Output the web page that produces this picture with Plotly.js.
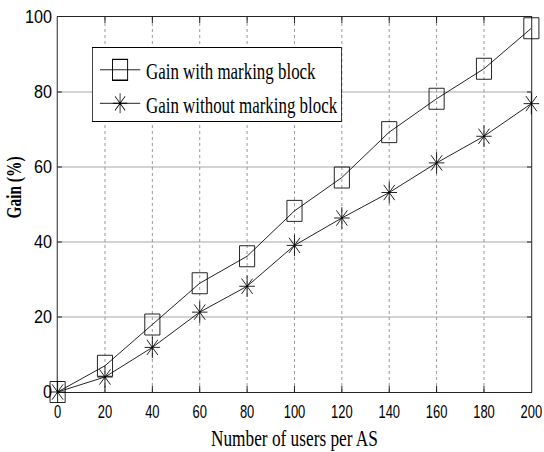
<!DOCTYPE html>
<html>
<head>
<meta charset="utf-8">
<script src="https://cdn.plot.ly/plotly-3.0.1.min.js"></script>
<style>
html, body { margin: 0; padding: 0; overflow: hidden; background: #fff; width: 544px; height: 452px; }
#plot { width: 756px; height: 452px; transform: scaleX(0.72); transform-origin: 0 0; }
</style>
</head>
<body>
<div id="plot"></div>
<script>
// Data
var usersPerAS = [0, 20, 40, 60, 80, 100, 120, 140, 160, 180, 200];
var gainWithMarking = [0, 7, 18, 29, 36.2, 48.3, 57.2, 69.3, 78.2, 86.2, 97];
var gainWithoutMarking = [0, 4, 11.9, 21.3, 28.2, 39.1, 46.4, 53.2, 61.1, 68.2, 76.9];
var seriesNames = ['Gain with marking block', 'Gain without marking block'];
var xTicks = [0, 20, 40, 60, 80, 100, 120, 140, 160, 180, 200];
var yTicks = [0, 20, 40, 60, 80, 100];

var S = 0.72; // horizontal squash of the reference

var tickFont = {family: 'Liberation Sans, Arial, sans-serif', size: 18, color: '#000'};
var serif = 'Liberation Serif, Times New Roman, serif';

var traces = [
  {x: usersPerAS, y: gainWithMarking, name: seriesNames[0], type: 'scatter', mode: 'lines+markers', cliponaxis: false,
   line: {color: '#000', width: 1}, marker: {symbol: 'square-open', size: 21, color: '#000', line: {color: '#000', width: 1}}},
  {x: usersPerAS, y: gainWithoutMarking, name: seriesNames[1], type: 'scatter', mode: 'lines+markers', cliponaxis: false,
   line: {color: '#000', width: 1}, marker: {symbol: 'asterisk-open', size: 18, color: '#000', line: {color: '#000', width: 1}}}
];

var layout = {
  width: 756, height: 452,
  margin: {l: 80, r: 18, t: 17, b: 60, pad: 0},
  paper_bgcolor: '#fff', plot_bgcolor: '#fff',
  showlegend: true,
  legend: {x: 0.0726, y: 0.92, xanchor: 'left', yanchor: 'top', bgcolor: '#fff', bordercolor: '#000', borderwidth: 1,
    font: {family: serif, size: 23.5, color: '#000'}, itemwidth: 64},
  xaxis: {range: [0, 200], tickvals: xTicks, ticktext: xTicks.map(String),
    showline: true, linecolor: '#000', linewidth: 1, mirror: 'ticks',
    ticks: 'inside', ticklen: 6, tickcolor: '#000', tickwidth: 1,
    showgrid: true, gridcolor: '#888', griddash: 'dot', gridwidth: 1,
    zeroline: false, tickfont: tickFont, automargin: false, ticklabelstandoff: 3,
    title: {text: 'Number of users per AS', font: {family: serif, size: 24, color: '#000'}, standoff: 8}},
  yaxis: {range: [0, 100], tickvals: yTicks, ticktext: yTicks.map(String),
    showline: true, linecolor: '#000', linewidth: 1, mirror: 'ticks',
    ticks: 'inside', ticklen: 6, tickcolor: '#000', tickwidth: 1,
    showgrid: true, gridcolor: '#999', gridwidth: 1,
    zeroline: false, tickfont: tickFont, automargin: false, ticklabelstandoff: 3,
    title: {text: 'Gain (%)', font: {family: serif, size: 21, color: '#000', weight: 'bold'}}}
};

var gd = document.getElementById('plot');
Plotly.newPlot(gd, traces, layout, {staticPlot: true, responsive: false, displayModeBar: false}).then(function () {
  // y tick labels are less condensed in the reference
  gd.querySelectorAll('.ytick text').forEach(function (t) {
    var x = +t.getAttribute('x');
    var prev = t.getAttribute('transform') || '';
    var k = 0.9 / S;
    t.setAttribute('transform', prev + ' translate(' + x + ',0) scale(' + k + ',1) translate(' + (-x) + ',0)');
  });
  // y title: 62 px long, condensed along its baseline, placed as in the reference
  var el = gd.querySelector('.ytitle');
  if (el) {
    var x = +el.getAttribute('x'), y = +el.getAttribute('y');
    var bb = el.getBBox();
    var sy = 62 / bb.width;
    var sx = sy / (0.74 * S);
    var uc = bb.x + bb.width / 2, vc = bb.y + bb.height / 2;
    var X = x + sx * (vc - y), Y = y - sy * (uc - x);
    var dx = 14.8 / S - X, dy = 187.5 - Y;
    el.setAttribute('transform', 'translate(' + dx + ',' + dy + ') translate(' + x + ',' + y + ') scale(' + sx + ',' + sy + ') translate(' + (-x) + ',' + (-y) + ') rotate(-90,' + x + ',' + y + ')');
  }
  // legend symbols: longer line, marker centred on it
  gd.querySelectorAll('.legend .legendlines path').forEach(function (p) { p.setAttribute('d', 'M10,0h56'); });
  var scales = [1.31, 1.04];
  gd.querySelectorAll('.legend .traces').forEach(function (tr, i) {
    tr.querySelectorAll('.legendsymbols path').forEach(function (p) {
      p.setAttribute('transform', 'translate(38,0) scale(' + (scales[i] || 1) + ')');
    });
  });
  var bg = gd.querySelector('.legend .bg');
  if (bg) bg.setAttribute('height', +bg.getAttribute('height') - 5);
});
</script>
</body>
</html>
